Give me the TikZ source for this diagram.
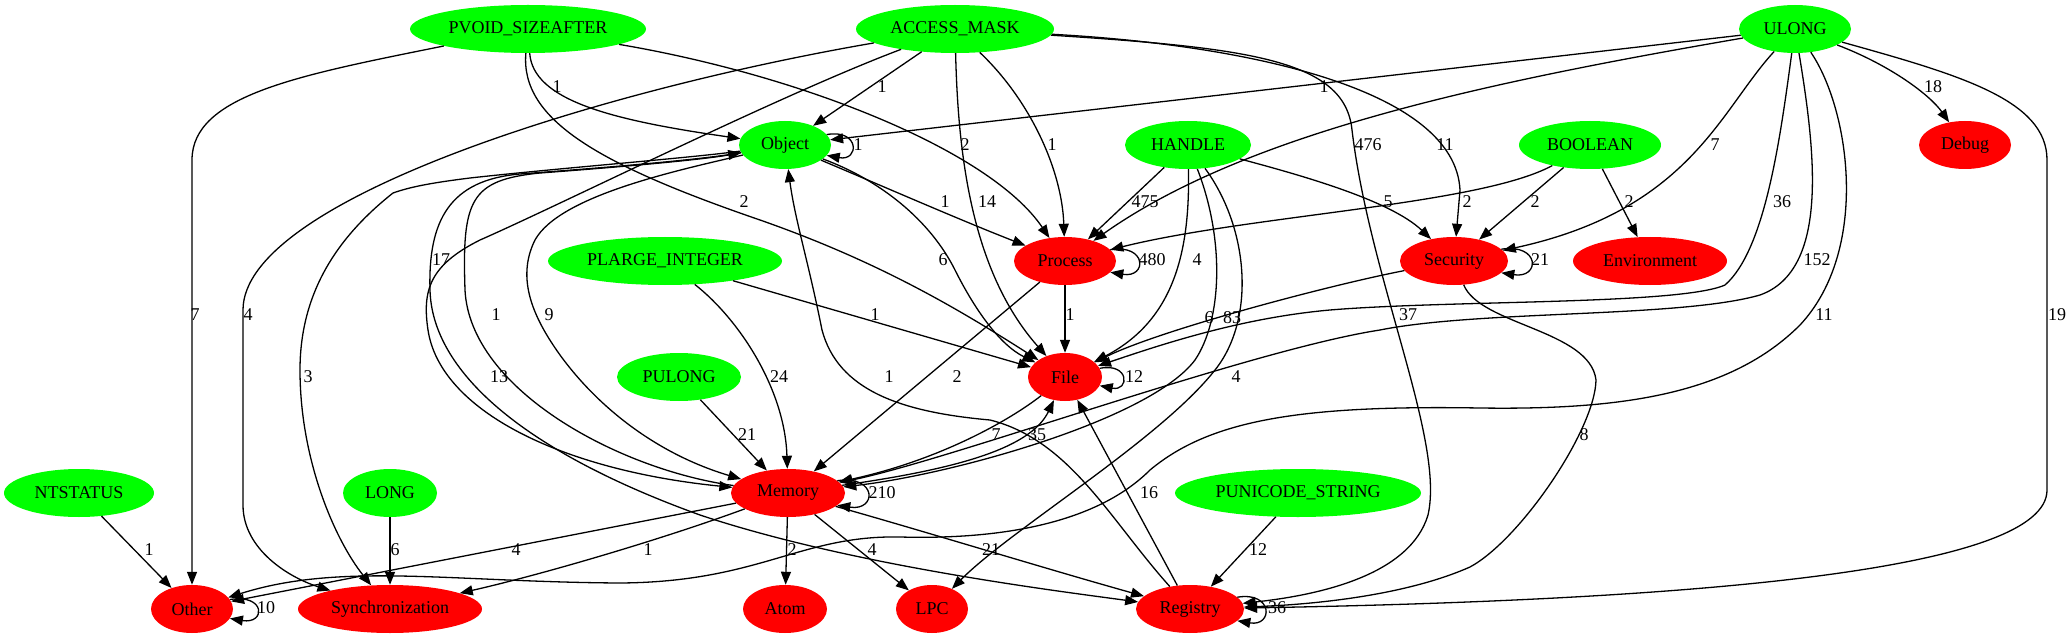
\documentclass[tikz,border=0pt]{standalone}
\usepackage{fontspec}
\setmainfont{Liberation Serif}
\usetikzlibrary{arrows.meta,shapes.geometric}
\definecolor{gfill}{RGB}{0,255,0}
\definecolor{rfill}{RGB}{255,0,0}
\begin{document}
\begin{tikzpicture}[x=1pt,y=-1pt,
 every node/.style={font=\fontsize{18}{21}\selectfont},
 nodebase/.style={ellipse, inner sep=0pt, minimum height=48pt, draw=none},
 src/.style={nodebase, fill=gfill},
 dst/.style={nodebase, fill=rfill},
 arr/.style={line width=1.3pt, -{Triangle[length=13pt,width=10pt]}},
 lbl/.style={inner sep=0pt}]
\useasboundingbox (0,0) rectangle (2072,639);
% nodes
\node[src, minimum width=236pt] (PV) at (528,29) {PVOID\_SIZEAFTER};
\node[src, minimum width=198pt] (AM) at (955,29) {ACCESS\_MASK};
\node[src, minimum width=112pt] (UL) at (1795,29) {ULONG};
\node[src, minimum width=92pt] (OB) at (785,145) {Object};
\node[src, minimum width=126pt] (HA) at (1188,145) {HANDLE};
\node[src, minimum width=142pt] (BO) at (1590,145) {BOOLEAN};
\node[dst, minimum width=92pt] (DE) at (1965,145) {Debug};
\node[src, minimum width=234pt] (PL) at (665,261) {PLARGE\_INTEGER};
\node[dst, minimum width=102pt] (PR) at (1065,261) {Process};
\node[dst, minimum width=108pt] (SE) at (1454,261) {Security};
\node[dst, minimum width=154pt] (EN) at (1650,261) {Environment};
\node[src, minimum width=124pt] (PU) at (679,377) {PULONG};
\node[dst, minimum width=74pt] (FI) at (1065,377) {File};
\node[src, minimum width=150pt] (NT) at (79,493) {NTSTATUS};
\node[src, minimum width=94pt] (LO) at (390,493) {LONG};
\node[dst, minimum width=114pt] (ME) at (788,493) {Memory};
\node[src, minimum width=246pt] (PS) at (1298,493) {PUNICODE\_STRING};
\node[dst, minimum width=82pt] (OT) at (192,609) {Other};
\node[dst, minimum width=184pt] (SY) at (390,609) {Synchronization};
\node[dst, minimum width=84pt] (AT) at (785,609) {Atom};
\node[dst, minimum width=72pt] (LP) at (932,609) {LPC};
\node[dst, minimum width=108pt] (RE) at (1190,609) {Registry};

% PVOID_SIZEAFTER
\draw[arr] (PV) .. controls (300,75) and (192,95) .. (192,160) -- (OT);
\draw[arr] (PV) .. controls (533,100) and (610,120) .. (OB);
\draw[arr] (PV) .. controls (520,120) and (600,165) .. (760,220) .. controls (880,262) and (960,310) .. (FI);
\draw[arr] (PV) .. controls (800,75) and (990,150) .. (PR);
% ACCESS_MASK
\draw[arr] (AM) -- (OB);
\draw[arr] (AM) .. controls (1030,100) and (1062,170) .. (PR);
\draw[arr] (AM) .. controls (958,150) and (970,270) .. (FI);
\draw[arr] (AM) .. controls (600,90) and (243,200) .. (243,310) -- (243,505) .. controls (243,550) and (290,578) .. (SY);
\draw[arr] (AM) .. controls (780,95) and (560,205) .. (480,240) .. controls (430,265) and (422,290) .. (428,330) .. controls (440,410) and (560,470) .. (ME);
\draw[arr] (AM) .. controls (1250,45) and (1455,90) .. (1460,190) -- (SE);
\draw[arr] (AM) .. controls (1250,48) and (1345,60) .. (1352,130) .. controls (1370,280) and (1445,440) .. (1428,515) .. controls (1410,575) and (1320,595) .. (RE);
% ULONG
\draw[arr] (UL) -- (OB);
\draw[arr] (UL) .. controls (1500,80) and (1250,130) .. (PR);
\draw[arr] (UL) .. controls (1720,110) and (1690,210) .. (SE);
\draw[arr] (UL) .. controls (1890,65) and (1930,95) .. (DE);
\draw[arr] (UL) .. controls (1960,75) and (2047,100) .. (2047,160) -- (2047,490) .. controls (2047,570) and (1700,600) .. (RE);
\draw[arr] (UL) .. controls (1850,110) and (1870,250) .. (1800,325) .. controls (1730,395) and (1620,410) .. (1480,408) .. controls (1300,405) and (1210,420) .. (1150,470) .. controls (1100,520) and (1010,540) .. (900,537) .. controls (800,535) and (760,582) .. (620,583) .. controls (450,582) and (340,562) .. (OT);
\draw[arr] (UL) .. controls (1780,140) and (1765,250) .. (1725,285) .. controls (1680,305) and (1450,300) .. (1330,310) .. controls (1240,318) and (1160,345) .. (FI);
\draw[arr] (UL) .. controls (1815,150) and (1830,270) .. (1760,295) .. controls (1680,318) and (1480,310) .. (1380,330) .. controls (1250,350) and (950,460) .. (ME);
% HANDLE
\draw[arr] (HA) -- (PR);
\draw[arr] (HA) .. controls (1300,175) and (1390,200) .. (SE);
\draw[arr] (HA) .. controls (1190,250) and (1175,320) .. (FI);
\draw[arr] (HA) .. controls (1225,240) and (1222,320) .. (1195,360) .. controls (1150,420) and (950,475) .. (ME);
\draw[arr] (HA) .. controls (1250,230) and (1255,320) .. (1215,370) .. controls (1160,440) and (1010,530) .. (LP);
% BOOLEAN
\draw[arr] (BO) .. controls (1480,205) and (1250,215) .. (PR);
\draw[arr] (BO) -- (SE);
\draw[arr] (BO) -- (EN);
% Object
\draw[arr] (OB.14) .. controls +(33,-6) and +(33,6) .. (OB.-14);
\draw[arr] (OB) .. controls (880,185) and (960,220) .. (PR);
\draw[arr] (OB) .. controls (880,180) and (930,220) .. (955,270) .. controls (975,310) and (1000,345) .. (FI);
\draw[arr] (OB) .. controls (680,170) and (560,195) .. (535,240) .. controls (515,280) and (535,320) .. (560,355) .. controls (600,410) and (660,455) .. (ME);
\draw[arr] (OB) .. controls (700,160) and (600,168) .. (520,174) .. controls (450,180) and (428,220) .. (430,290) .. controls (432,370) and (520,450) .. (700,515) .. controls (850,565) and (1050,590) .. (RE);
\draw[arr] (OB) .. controls (690,158) and (560,168) .. (470,178) .. controls (430,183) and (410,187) .. (393,193) .. controls (340,235) and (300,290) .. (300,370) .. controls (300,460) and (335,540) .. (SY);
% Process
\draw[arr] (PR.14) .. controls +(37,-6) and +(37,6) .. (PR.-14);
\draw[arr] (PR) -- (FI);
\draw[arr] (PR) -- (ME);
% Security
\draw[arr] (SE.14) .. controls +(39,-6) and +(39,6) .. (SE.-14);
\draw[arr] (SE) .. controls (1330,285) and (1160,330) .. (FI);
\draw[arr] (SE) .. controls (1480,325) and (1590,330) .. (1596,380) .. controls (1595,430) and (1520,540) .. (1470,567) .. controls (1400,598) and (1300,605) .. (RE);
% PLARGE_INTEGER, PULONG
\draw[arr] (PL) -- (FI);
\draw[arr] (PL) .. controls (740,320) and (785,390) .. (ME);
\draw[arr] (PU) -- (ME);
% File
\draw[arr] (FI.14) .. controls +(30,-6) and +(30,6) .. (FI.-14);
\draw[arr] (FI) .. controls (1010,420) and (940,460) .. (ME);
% Memory
\draw[arr] (ME.14) .. controls +(40,-6) and +(40,6) .. (ME.-14);
\draw[arr] (ME) .. controls (950,470) and (1030,450) .. (FI);
\draw[arr] (ME) .. controls (620,470) and (470,390) .. (465,290) .. controls (462,200) and (470,180) .. (540,173) .. controls (620,167) and (700,160) .. (OB);
\draw[arr] (ME) -- (OT);
\draw[arr] (ME) .. controls (660,540) and (540,575) .. (SY);
\draw[arr] (ME) -- (AT);
\draw[arr] (ME) -- (LP);
\draw[arr] (ME) .. controls (920,530) and (1050,570) .. (RE);
% Registry
\draw[arr] (RE.14) .. controls +(36,-6) and +(36,6) .. (RE.-14);
\draw[arr] (RE) -- (FI);
\draw[arr] (RE) .. controls (1110,520) and (1070,440) .. (990,420) .. controls (900,412) and (838,390) .. (822,330) .. controls (808,260) and (795,220) .. (OB);
% others
\draw[arr] (NT) -- (OT);
\draw[arr] (LO) -- (SY);
\draw[arr] (PS) -- (RE);
\draw[arr] (OT.14) .. controls +(36,-6) and +(36,6) .. (OT.-14);

% labels
\node[lbl] (l01) at (195,315) {7};
\node[lbl] (l02) at (557,87) {1};
\node[lbl] (l03) at (744,202) {2};
\node[lbl] (l04) at (965,145) {2};
\node[lbl] (l05) at (882,87) {1};
\node[lbl] (l06) at (1052,145) {1};
\node[lbl] (l07) at (987,202) {14};
\node[lbl] (l08) at (248,315) {4};
\node[lbl] (l09) at (441,260) {17};
\node[lbl] (l10) at (1445,145) {11};
\node[lbl] (l11) at (1368,145) {476};
\node[lbl] (l12) at (1408,315) {37};
\node[lbl] (l13) at (1324,87) {1};
\node[lbl] (l14) at (1715,145) {7};
\node[lbl] (l15) at (1933,87) {18};
\node[lbl] (l16) at (2057,315) {19};
\node[lbl] (l17) at (1824,315) {11};
\node[lbl] (l18) at (1782,202) {36};
\node[lbl] (l19) at (1817,260) {152};
\node[lbl] (l20) at (1145,202) {475};
\node[lbl] (l21) at (1388,202) {5};
\node[lbl] (l22) at (1197,260) {4};
\node[lbl] (l23) at (1232,318) {83};
\node[lbl] (l24) at (1209,318) {6};
\node[lbl] (l25) at (1236,377) {4};
\node[lbl] (l26) at (1467,202) {2};
\node[lbl] (l27) at (1535,202) {2};
\node[lbl] (l28) at (1629,202) {2};
\node[lbl] (l29) at (858,145) {1};
\node[lbl] (l30) at (945,202) {1};
\node[lbl] (l31) at (943,260) {6};
\node[lbl] (l32) at (1152,260) {480};
\node[lbl] (l33) at (1070,315) {1};
\node[lbl] (l34) at (957,377) {2};
\node[lbl] (l35) at (1540,260) {21};
\node[lbl] (l36) at (1584,435) {8};
\node[lbl] (l37) at (875,315) {1};
\node[lbl] (l38) at (779,377) {24};
\node[lbl] (l39) at (747,435) {21};
\node[lbl] (l40) at (1134,377) {12};
\node[lbl] (l41) at (996,435) {7};
\node[lbl] (l42) at (1037,435) {35};
\node[lbl] (l43) at (882,493) {210};
\node[lbl] (l44) at (1149,493) {16};
\node[lbl] (l45) at (889,377) {1};
\node[lbl] (l46) at (549,315) {9};
\node[lbl] (l47) at (496,315) {1};
\node[lbl] (l48) at (499,377) {13};
\node[lbl] (l49) at (308,377) {3};
\node[lbl] (l50) at (516,550) {4};
\node[lbl] (l51) at (648,550) {1};
\node[lbl] (l52) at (792,550) {2};
\node[lbl] (l53) at (872,550) {4};
\node[lbl] (l54) at (991,550) {21};
\node[lbl] (l55) at (149,550) {1};
\node[lbl] (l56) at (395,550) {6};
\node[lbl] (l57) at (1258,550) {12};
\node[lbl] (l58) at (266,608) {10};
\node[lbl] (l59) at (1277,608) {36};
\end{tikzpicture}
\end{document}
